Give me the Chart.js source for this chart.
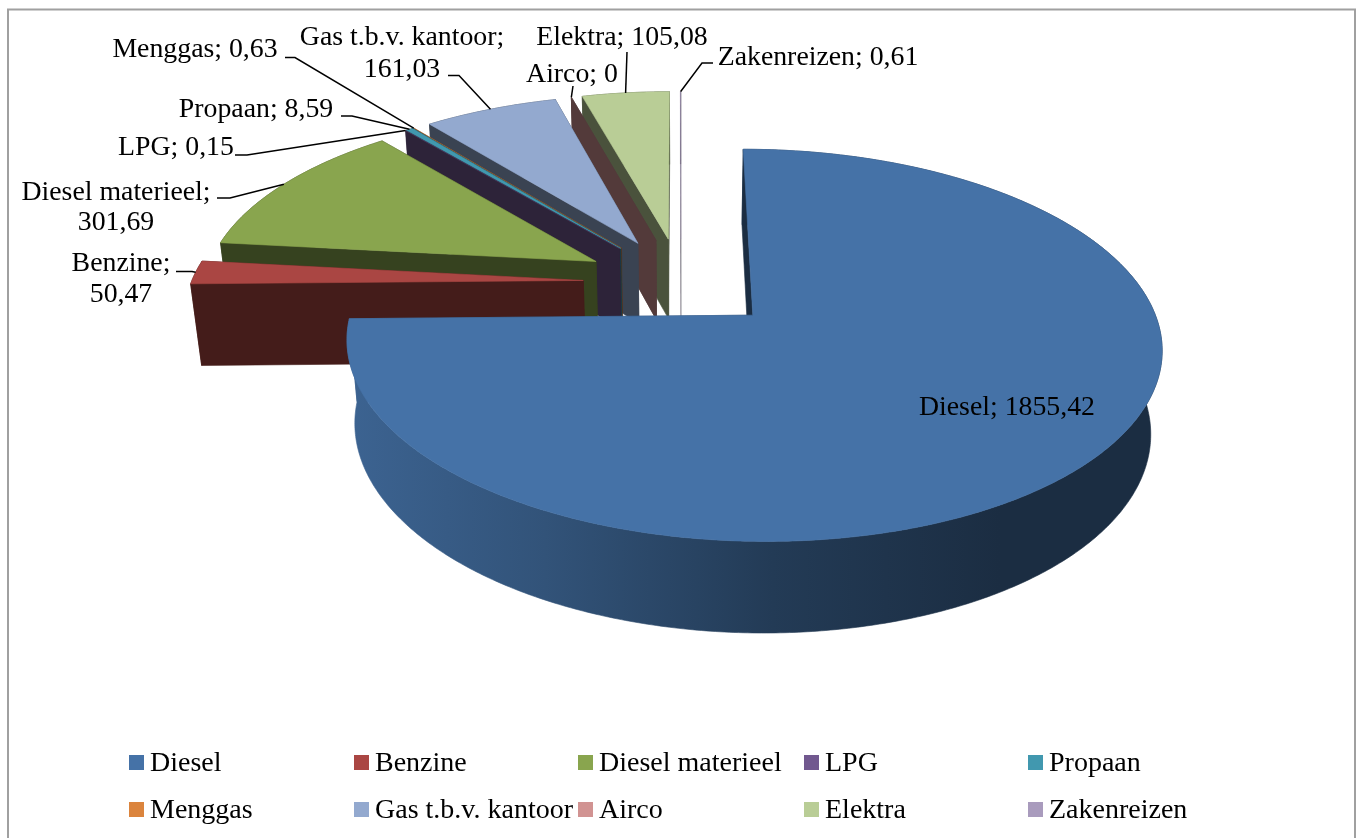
<!DOCTYPE html>
<html>
<head>
<meta charset="utf-8">
<title>Energieverbruik</title>
<script src="https://cdn.jsdelivr.net/npm/chart.js@4"></script>
<style>
    html, body { margin: 0; padding: 0; background: #fff; overflow: hidden; }
    #wrap { position: absolute; left: 0; top: 0; width: 1357px; height: 838px; }
</style>
</head>
<body>
<div id="wrap"><canvas id="pie"></canvas></div>
<script>
const categories = ['Diesel', 'Benzine', 'Diesel materieel', 'LPG', 'Propaan', 'Menggas', 'Gas t.b.v. kantoor', 'Airco', 'Elektra', 'Zakenreizen'];
const values = [1855.42, 50.47, 301.69, 0.15, 8.59, 0.63, 161.03, 0, 105.08, 0.61];
const valueLabels = ['1855,42', '50,47', '301,69', '0,15', '8,59', '0,63', '161,03', '0', '105,08', '0,61'];
const colors = ['#4572A7', '#AA4643', '#89A54E', '#71588F', '#4198AF', '#DB843D', '#93A9CF', '#D19392', '#B9CD96', '#A99BBD'];

const FONT = '"Liberation Serif", serif';

// projection of the pie plane, fitted on the picture
const CX = 681, CY = 282.5;      // pie centre on screen
const AX = 392, BY = 181.5;      // radius in x, foreshortened radius in y
const PERSP = 0.15;              // far side shrinks
const EXPLODE = 0.25;            // explosion, as part of the radius
const DEPTH = 83.5, DEPTH_W = 0.023;   // pie height

const project = (u, v, z) => {
    const w = 1 + PERSP * v + DEPTH_W * z;
    return { x: CX + AX * u / w, y: CY - (BY * v - DEPTH * z) / w };
};

function sliceGeom(arc) {
    const a0 = arc.startAngle + Math.PI / 2, a1 = arc.endAngle + Math.PI / 2;
    const mid = (a0 + a1) / 2;
    return { a0, a1, mid, ou: EXPLODE * Math.sin(mid), ov: EXPLODE * Math.cos(mid) };
}

function rimPoints(g, z) {
    const n = Math.max(2, Math.ceil((g.a1 - g.a0) / 0.01));
    const pts = [];
    for (let i = 0; i <= n; i++) {
        const t = g.a0 + (g.a1 - g.a0) * i / n;
        pts.push(project(g.ou + Math.sin(t), g.ov + Math.cos(t), z));
    }
    return pts;
}

function fillPoly(ctx, pts, fill, seam) {
    ctx.beginPath();
    pts.forEach((p, i) => i ? ctx.lineTo(p.x, p.y) : ctx.moveTo(p.x, p.y));
    ctx.closePath();
    ctx.fillStyle = fill;
    ctx.strokeStyle = fill;
    ctx.lineWidth = seam;
    ctx.fill();
    ctx.stroke();
}

function shade(hex, f) {
    const n = parseInt(hex.slice(1), 16);
    return `rgb(${(n >> 16) * f | 0},${((n >> 8) & 255) * f | 0},${(n & 255) * f | 0})`;
}

function drawSlice(ctx, arc, color) {
    const g = sliceGeom(arc);
    const top = rimPoints(g, 0), bottom = rimPoints(g, 1);
    const apexT = project(g.ou, g.ov, 0), apexB = project(g.ou, g.ov, 1);
    const side = shade(color, 0.4);
    const span = g.a1 - g.a0;
    // slivers stay hairlines
    const seam = span > 0 && span < 0.005 ? 0.2 : 0.6;

    // outer wall goes from lit on the left to dark on the right
    const grad = ctx.createLinearGradient(350, 0, 1000, 0);
    grad.addColorStop(0, shade(color, 0.87));
    grad.addColorStop(0.3, shade(color, 0.73));
    grad.addColorStop(0.65, shade(color, 0.52));
    grad.addColorStop(1, side);
    const outer = span > 2 ? grad : side;

    fillPoly(ctx, [apexT, top[top.length - 1], bottom[bottom.length - 1], apexB], outer, seam);
    fillPoly(ctx, top.concat(bottom.slice().reverse()), outer, seam);
    fillPoly(ctx, [apexT, top[0], bottom[0], apexB], side, seam);
    if (span > 0) fillPoly(ctx, [apexT].concat(top), color, seam);
}

// text and leaders of the data labels, placed by hand like in the original
const labelLines = [
    [['Diesel; ' + valueLabels[0], 1007, 408]],
    [['Benzine;', 121, 264], [valueLabels[1], 121, 295]],
    [['Diesel materieel;', 116, 193], [valueLabels[2], 116, 223]],
    [['LPG; ' + valueLabels[3], 176, 148]],
    [['Propaan; ' + valueLabels[4], 256, 110]],
    [['Menggas; ' + valueLabels[5], 195, 50]],
    [['Gas t.b.v. kantoor;', 402, 38], [valueLabels[6], 402, 70]],
    [['Airco; ' + valueLabels[7], 572, 75]],
    [['Elektra; ' + valueLabels[8], 622, 38]],
    [['Zakenreizen; ' + valueLabels[9], 818, 58]]
];
const leaders = [
    null,
    [[176, 271.5], [192, 271.5]],
    [[217, 198], [230, 198]],
    [[235, 155], [247, 155]],
    [[341, 116], [352, 116]],
    [[285, 57.5], [295, 57.5]],
    [[448, 75.5], [459, 75.5]],
    [[573, 86]],
    [[627, 52]],
    [[713, 63], [702, 63]]
];
const legendX = [129, 354, 578, 804, 1028];
const legendY = [755, 802];

const pie3d = {
    id: 'pie3d',
    beforeDatasetsDraw(chart) {
        const ctx = chart.ctx;
        const arcs = chart.getDatasetMeta(0).data;
        ctx.save();

        // frame
        ctx.strokeStyle = '#a0a0a0';
        ctx.lineWidth = 2;
        ctx.strokeRect(8, 9.5, 1347, 840);

        // back to front
        for (let i = arcs.length - 1; i >= 0; i--) drawSlice(ctx, arcs[i], colors[i]);

        // leaders
        ctx.strokeStyle = '#000';
        ctx.lineWidth = 1.5;
        leaders.forEach((pts, i) => {
            if (!pts) return;
            const g = sliceGeom(arcs[i]);
            const end = project(g.ou + Math.sin(g.mid), g.ov + Math.cos(g.mid), 0);
            ctx.beginPath();
            pts.forEach((p, k) => k ? ctx.lineTo(p[0], p[1]) : ctx.moveTo(p[0], p[1]));
            ctx.lineTo(end.x, end.y);
            ctx.stroke();
        });

        // data labels
        ctx.fillStyle = '#000';
        ctx.textAlign = 'center';
        ctx.textBaseline = 'middle';
        ctx.font = '27.8px ' + FONT;
        labelLines.forEach(lines => lines.forEach(l => ctx.fillText(l[0], l[1], l[2])));

        // legend in a fixed grid
        ctx.textAlign = 'left';
        ctx.font = '28px ' + FONT;
        categories.forEach((c, i) => {
            const x = legendX[i % 5], y = legendY[i < 5 ? 0 : 1];
            ctx.fillStyle = colors[i];
            ctx.fillRect(x, y, 15, 15);
            ctx.fillStyle = '#000';
            ctx.fillText(c, x + 21, y + 9);
        });

        ctx.restore();
        return false;
    }
};

new Chart(document.getElementById('pie'), {
    type: 'pie',
    data: {
        labels: categories,
        datasets: [{ data: values, backgroundColor: colors, borderWidth: 0 }]
    },
    options: {
        responsive: true,
        maintainAspectRatio: false,
        animation: false,
        plugins: { legend: { display: false }, tooltip: { enabled: false } }
    },
    plugins: [pie3d]
});
</script>
</body>
</html>
